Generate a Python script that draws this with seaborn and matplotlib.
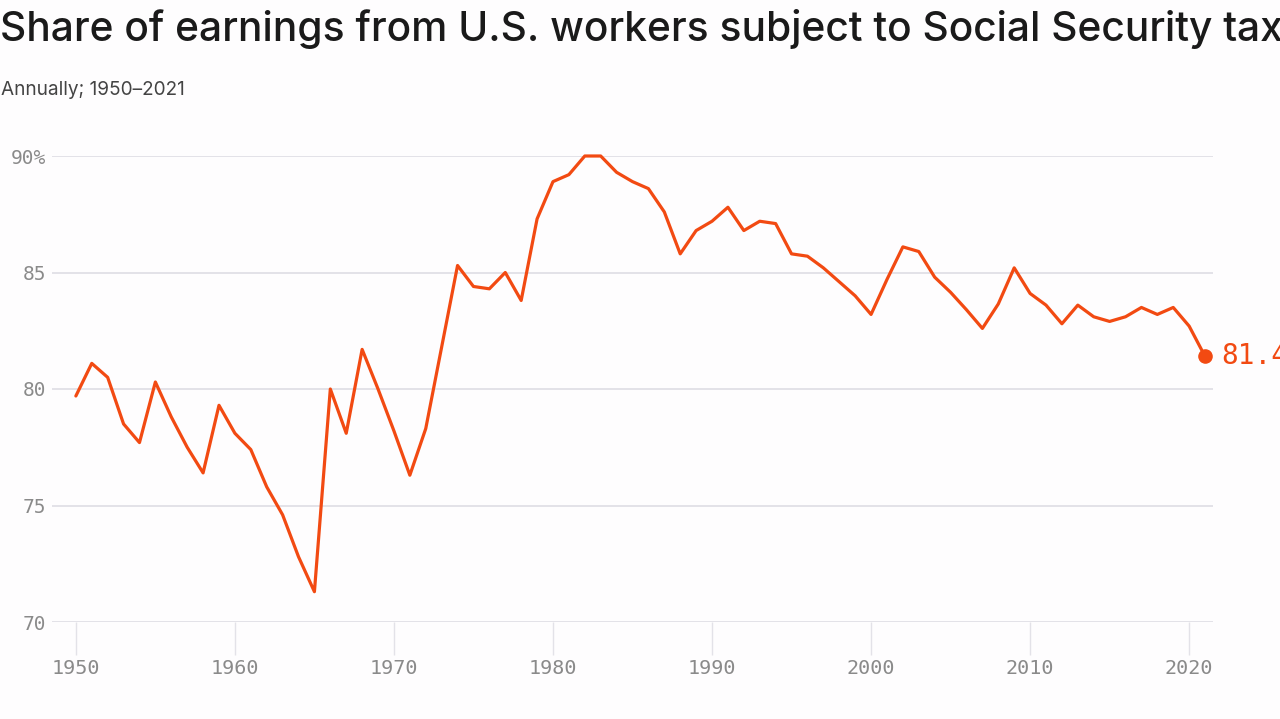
import matplotlib
matplotlib.use("Agg")
import matplotlib.pyplot as plt
import seaborn as sns
import pandas as pd

years = list(range(1950, 2022))
share = [79.7, 81.1, 80.5, 78.5, 77.7, 80.3, 78.8, 77.5, 76.4, 79.3,
         78.1, 77.4, 75.8, 74.6, 72.8, 71.3, 80.0, 78.1, 81.7, 80.0,
         78.2, 76.3, 78.3, 81.8, 85.3, 84.4, 84.3, 85.0, 83.8, 87.3,
         88.9, 89.2, 90.0, 90.0, 89.3, 88.9, 88.6, 87.6, 85.8, 86.8,
         87.2, 87.8, 86.8, 87.2, 87.1, 85.8, 85.7, 85.2, 84.6, 84.0,
         83.2, 84.7, 86.1, 85.9, 84.8, 84.15, 83.4, 82.6, 83.65, 85.2,
         84.1, 83.6, 82.8, 83.6, 83.1, 82.9, 83.1, 83.5, 83.2, 83.5,
         82.7, 81.4]
y_ticks = [70, 75, 80, 85, 90]
y_tick_labels = ["70", "75", "80", "85", "90%"]
x_ticks = [1950, 1960, 1970, 1980, 1990, 2000, 2010, 2020]
title = "Share of earnings from U.S. workers subject to Social Security tax"
subtitle = "Annually; 1950–2021"

df = pd.DataFrame({"year": years, "share": share})

sns.set_theme(style="white")
plt.rcParams["font.family"] = ["Inter", "DejaVu Sans"]

ORANGE = "#f24a12"
GRID = "#e3e2e8"
TICK = "#8a8a8a"

fig = plt.figure(figsize=(12.8, 7.19), dpi=100)
fig.patch.set_facecolor("#fefdfe")
ax = fig.add_axes([52/1280, 1-622/719, (1213-52)/1280, (622-156)/719])
ax.set_facecolor("#fefdfe")

sns.lineplot(data=df, x="year", y="share", ax=ax, color=ORANGE,
             linewidth=2.3, clip_on=False, zorder=3)
ax.scatter([years[-1]], [share[-1]], s=90, color=ORANGE, zorder=4, clip_on=False)
ax.annotate(f"{share[-1]:.1f}", xy=(years[-1], share[-1]), xytext=(12, 0),
            textcoords="offset points", va="center", ha="left",
            fontsize=20, color=ORANGE, family="DejaVu Sans Mono",
            annotation_clip=False)

ax.set_xlim(1948.5, 2021.5)
ax.set_ylim(70, 90)
ax.set_yticks(y_ticks)
ax.set_yticklabels(y_tick_labels)
ax.set_xticks(x_ticks)
ax.set_xticklabels([str(x) for x in x_ticks])
ax.grid(axis="y", color=GRID, linewidth=1.4, zorder=0)
ax.grid(axis="x", visible=False)
for s in ax.spines.values():
    s.set_visible(False)
ax.tick_params(axis="y", left=False, length=0, pad=4, labelsize=14, labelcolor=TICK)
ax.tick_params(axis="x", bottom=True, length=24, width=1, color=GRID, direction="out",
               pad=3, labelsize=14.5, labelcolor=TICK)
for lab in ax.get_xticklabels() + ax.get_yticklabels():
    lab.set_family("DejaVu Sans Mono")
ax.set_xlabel("")
ax.set_ylabel("")

fig.text(0.0, 1-29/719, title, fontsize=29.3, fontweight="medium", color="#1a1a1a",
         va="center", ha="left")
fig.text(0.001, 1-90/719, subtitle, fontsize=13.7, color="#444444", va="center", ha="left")

fig.savefig("out.png", dpi=100, facecolor=fig.get_facecolor())
